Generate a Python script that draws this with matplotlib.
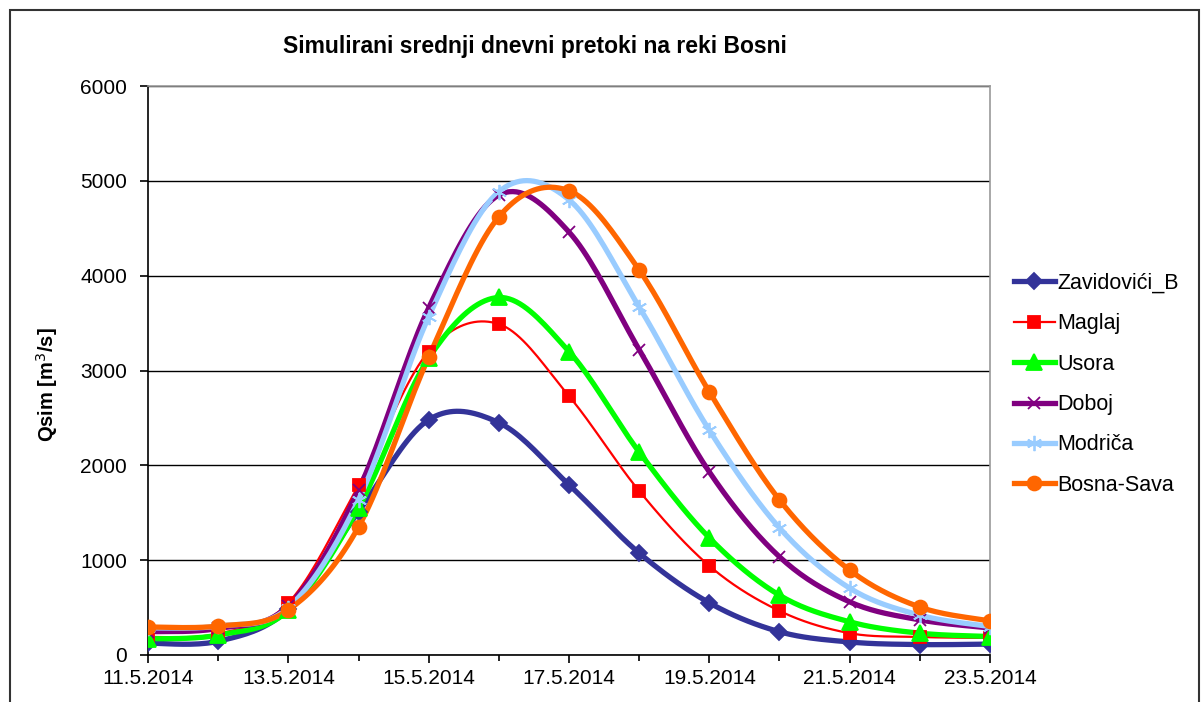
import numpy as np
import matplotlib.pyplot as plt
from matplotlib.patches import Rectangle
from matplotlib.lines import Line2D

plt.rcParams['font.family'] = ['Liberation Sans', 'DejaVu Sans']

dates = ['11.5.2014', '12.5.2014', '13.5.2014', '14.5.2014', '15.5.2014',
         '16.5.2014', '17.5.2014', '18.5.2014', '19.5.2014', '20.5.2014',
         '21.5.2014', '22.5.2014', '23.5.2014']

zavidovici = [125, 145, 480, 1510, 2480, 2450, 1795, 1075, 550, 245, 137, 110, 115]
maglaj = [190, 225, 550, 1790, 3200, 3490, 2730, 1730, 940, 465, 230, 190, 180]
usora = [170, 210, 470, 1550, 3130, 3770, 3200, 2140, 1235, 630, 350, 230, 195]
doboj = [245, 280, 520, 1740, 3660, 4850, 4460, 3220, 1930, 1035, 560, 370, 285]
modrica = [285, 305, 500, 1635, 3565, 4885, 4800, 3670, 2370, 1340, 705, 420, 300]
bosna_sava = [295, 305, 475, 1350, 3140, 4620, 4895, 4060, 2775, 1635, 895, 505, 360]

series = [
    ('Zavidovići_B', zavidovici, '#333399', 3.8, 'D', 8),
    ('Maglaj', maglaj, '#FF0000', 1.6, 's', 8),
    ('Usora', usora, '#00FF00', 3.8, '^', 11),
    ('Doboj', doboj, '#800080', 3.8, 'x', 9),
    ('Modriča', modrica, '#99CCFF', 3.8, (6, 2, 0), 11),
    ('Bosna-Sava', bosna_sava, '#FF6600', 3.8, 'o', 10),
]


def smooth(x, y, n=20):
    # Excel-like smoothed line (Catmull-Rom as cubic bezier)
    x = np.asarray(x, float)
    y = np.asarray(y, float)
    xs, ys = [], []
    for i in range(len(x) - 1):
        i0 = max(i - 1, 0)
        i3 = min(i + 2, len(x) - 1)
        p0 = np.array([x[i], y[i]])
        p3 = np.array([x[i + 1], y[i + 1]])
        c1 = p0 + (p3 - np.array([x[i0], y[i0]])) / 6.0
        c2 = p3 - (np.array([x[i3], y[i3]]) - p0) / 6.0
        t = np.linspace(0, 1, n, endpoint=(i == len(x) - 2))[:, None]
        pts = ((1 - t) ** 3) * p0 + 3 * ((1 - t) ** 2) * t * c1 + 3 * (1 - t) * t ** 2 * c2 + t ** 3 * p3
        xs.append(pts[:, 0])
        ys.append(pts[:, 1])
    return np.concatenate(xs), np.concatenate(ys)


fig = plt.figure(figsize=(12.04, 7.02), dpi=100)
fig.patches.append(Rectangle((10 / 1204, -0.05), 1189 / 1204, 1.05 - 10 / 702,
                             transform=fig.transFigure, fill=False,
                             edgecolor='#333333', lw=1.5))
ax = fig.add_axes([148 / 1204, 1 - 655 / 702, 842 / 1204, 569 / 702])

x = np.arange(len(dates))
handles = []
for name, vals, color, lw, mk, ms in series:
    sx, sy = smooth(x, vals)
    ax.plot(sx, sy, color=color, lw=lw, solid_capstyle='round', zorder=3)
    ax.plot(x, vals, ls='none', marker=mk, ms=ms, color=color,
            markeredgecolor=color, markeredgewidth=1.3, zorder=4)
    handles.append(Line2D([], [], color=color, lw=lw, marker=mk, ms=ms,
                          markeredgecolor=color, markeredgewidth=1.3))

ax.set_xlim(0, len(dates) - 1)
ax.set_ylim(0, 6000)
ax.set_yticks(np.arange(0, 6001, 1000))
ax.set_xticks(x[::2])
ax.set_xticklabels(dates[::2])
ax.set_xticks(x, minor=True)
ax.yaxis.grid(True, color='black', lw=1)
ax.set_axisbelow(True)
ax.tick_params(axis='both', which='major', direction='out', length=6,
               labelsize=15, width=1.2)
ax.tick_params(axis='x', which='minor', direction='out', length=4, width=1.2)
ax.tick_params(axis='x', pad=4)
ax.tick_params(axis='y', pad=9)
for s in ('top', 'right'):
    ax.spines[s].set_color('#999999')
    ax.spines[s].set_linewidth(1.2)
for s in ('left', 'bottom'):
    ax.spines[s].set_color('black')
    ax.spines[s].set_linewidth(1.2)

ax.set_ylabel('Qsim [m$^3$/s]', fontsize=14.5, fontweight='bold')
ax.yaxis.set_label_coords(-0.1045, 0.475)
fig.text(535 / 1204, 1 - 47 / 702, 'Simulirani srednji dnevni pretoki na reki Bosni',
         ha='center', va='center', fontsize=16.5, fontweight='bold')

fig.legend(handles, [s[0] for s in series], loc='upper left',
           bbox_to_anchor=(1014 / 1204, 1 - 273 / 702), frameon=False,
           fontsize=15.5, handlelength=1.9, handletextpad=0.1, labelspacing=0.9,
           borderaxespad=0, borderpad=0)

fig.savefig('out.png', dpi=100)
